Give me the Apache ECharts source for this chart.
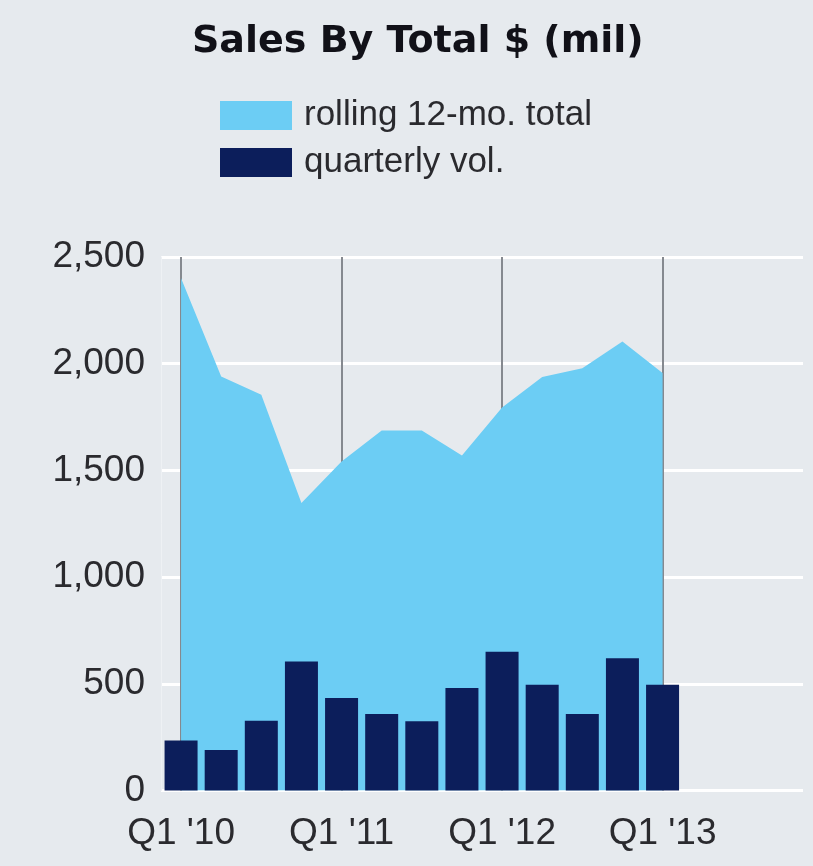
<!DOCTYPE html>
<html>
<head>
<meta charset="utf-8">
<title>Sales By Total $ (mil)</title>
<script src="https://cdn.jsdelivr.net/npm/echarts@6/dist/echarts.min.js"></script>
<style>
  html, body { margin: 0; padding: 0; background: #e6eaee; }
  #chart { width: 813px; height: 866px; }
</style>
</head>
<body>
<div id="chart"></div>
<script>
// Quarters on the x axis (the year 2013 runs on past the last data point)
const quarters = [
  "Q1 '10", "Q2 '10", "Q3 '10", "Q4 '10",
  "Q1 '11", "Q2 '11", "Q3 '11", "Q4 '11",
  "Q1 '12", "Q2 '12", "Q3 '12", "Q4 '12",
  "Q1 '13", "Q2 '13", "Q3 '13", "Q4 '13"
];

// Rolling 12-month sales total, $ millions
const rollingTotal = [2400, 1940, 1855, 1347, 1542, 1687, 1687, 1570, 1795, 1938, 1979, 2104, 1956];

// Sales volume per quarter, $ millions
const quarterlyVol = [234, 190, 327, 604, 433, 358, 325, 480, 650, 495, 358, 620, 495];

// Value axis ticks
const yTicks = [0, 500, 1000, 1500, 2000, 2500];

const AREA_COLOR = '#6ccdf4';
const BAR_COLOR = '#0c1e5b';

const chart = echarts.init(document.getElementById('chart'));

chart.setOption({
  backgroundColor: '#e6eaee',
  animation: false,
  title: {
    text: 'Sales By Total $ (mil)',
    left: 187,
    top: 18,
    textStyle: {
      fontFamily: 'DejaVu Sans',
      fontWeight: 'bold',
      fontSize: 38,
      color: '#111118'
    }
  },
  legend: {
    orient: 'vertical',
    left: 215,
    top: 93,
    icon: 'rect',
    itemWidth: 72,
    itemHeight: 29,
    itemGap: 12,
    textStyle: {
      fontFamily: 'Liberation Sans',
      fontSize: 35,
      color: '#2a2a2e',
      padding: [0, 0, 0, 7]
    },
    data: ['rolling 12-mo. total', 'quarterly vol.']
  },
  grid: {
    left: 161,
    right: 10,
    top: 257,
    bottom: 75.5,
    containLabel: false
  },
  xAxis: {
    type: 'category',
    data: quarters,
    boundaryGap: true,
    axisLine: { show: false },
    axisTick: { show: false },
    axisLabel: {
      interval: 3,
      margin: 25,
      fontFamily: 'Liberation Sans',
      fontSize: 37,
      color: '#2a2a2e'
    },
    splitLine: {
      show: true,
      interval: 3,
      alignWithLabel: true,
      lineStyle: { color: '#85898f', width: 2 }
    }
  },
  yAxis: {
    type: 'value',
    min: yTicks[0],
    max: yTicks[yTicks.length - 1],
    interval: yTicks[1] - yTicks[0],
    axisLine: { show: true, lineStyle: { color: '#eef1f4', width: 1 } },
    axisTick: { show: false },
    axisLabel: {
      margin: 16,
      fontFamily: 'Liberation Sans',
      fontSize: 37,
      color: '#2a2a2e',
      formatter: v => v.toLocaleString('en-US')
    },
    splitLine: {
      show: true,
      lineStyle: { color: '#ffffff', width: 3 }
    }
  },
  series: [
    {
      name: 'rolling 12-mo. total',
      type: 'line',
      data: rollingTotal,
      z: 2,
      symbol: 'none',
      lineStyle: { width: 0 },
      itemStyle: { color: AREA_COLOR },
      areaStyle: { color: AREA_COLOR, opacity: 1 }
    },
    {
      name: 'quarterly vol.',
      type: 'bar',
      data: quarterlyVol,
      z: 3,
      barWidth: 33,
      itemStyle: { color: BAR_COLOR }
    }
  ]
});
</script>
</body>
</html>
